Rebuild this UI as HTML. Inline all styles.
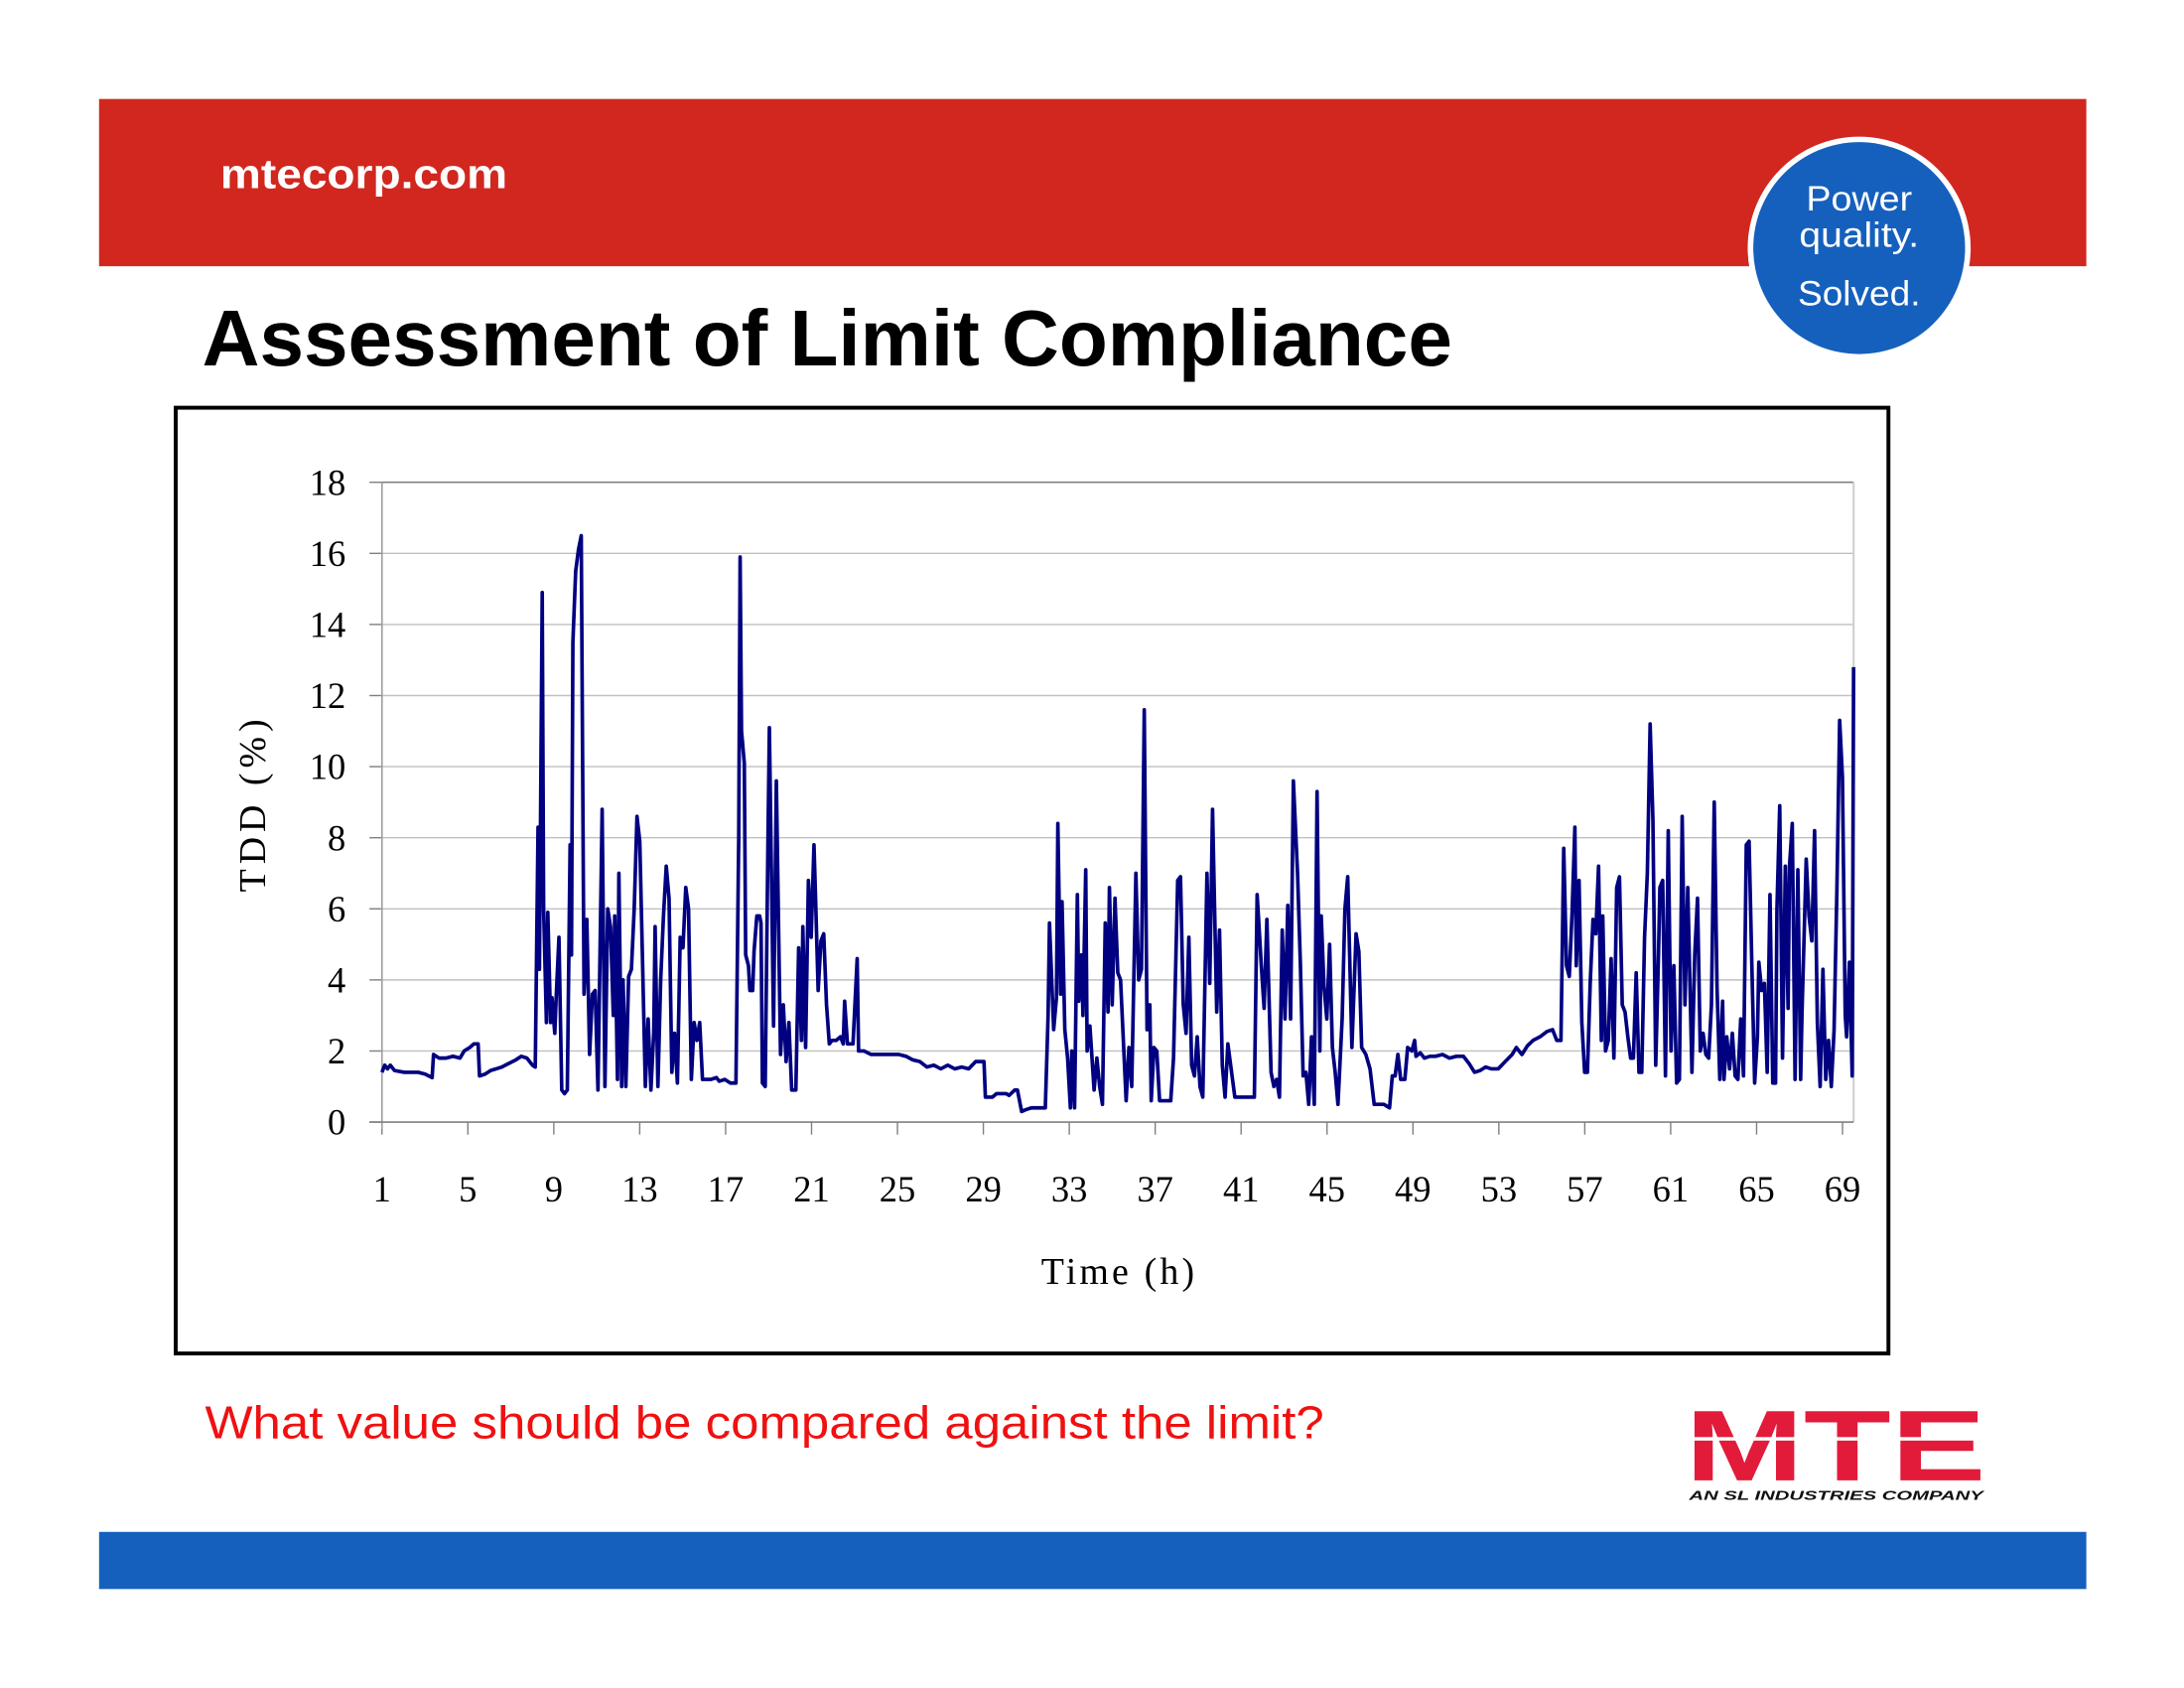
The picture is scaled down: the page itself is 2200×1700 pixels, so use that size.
<!DOCTYPE html>
<html><head><meta charset="utf-8"><style>html,body{margin:0;padding:0;background:#fff}svg{display:block}</style></head>
<body>
<svg id="s" width="2200" height="1700" viewBox="0 0 1567 1211" xmlns="http://www.w3.org/2000/svg">
<rect x="0" y="0" width="1567" height="1211" fill="#fff"/>
<rect x="71" y="71" width="1426" height="120" fill="#d1271f"/>
<text x="158" y="135" font-family="Liberation Sans, sans-serif" font-weight="bold" font-size="30" fill="#fff" textLength="206" lengthAdjust="spacingAndGlyphs">mtecorp.com</text>
<circle cx="1334" cy="178" r="80" fill="#fff"/>
<circle cx="1334" cy="178" r="76" fill="#1560bd"/>
<text x="1334" y="151" text-anchor="middle" font-family="Liberation Sans, sans-serif" font-size="25" fill="#fff" textLength="76" lengthAdjust="spacingAndGlyphs">Power</text>
<text x="1334" y="177" text-anchor="middle" font-family="Liberation Sans, sans-serif" font-size="25" fill="#fff" textLength="86" lengthAdjust="spacingAndGlyphs">quality.</text>
<text x="1334" y="219" text-anchor="middle" font-family="Liberation Sans, sans-serif" font-size="25" fill="#fff" textLength="88" lengthAdjust="spacingAndGlyphs">Solved.</text>
<text x="145" y="262" font-family="Liberation Sans, sans-serif" font-weight="bold" font-size="57" fill="#000" textLength="897" lengthAdjust="spacingAndGlyphs">Assessment of Limit Compliance</text>
<rect x="126" y="292.5" width="1229" height="678.5" fill="none" stroke="#000" stroke-width="2.8"/>
<g id="grid" stroke="#c0c0c0" stroke-width="1"></g>
<line x1="274" y1="346" x2="1330" y2="346" stroke="#808080" stroke-width="1.2"/>
<line x1="1330" y1="346" x2="1330" y2="805" stroke="#d0d0d0" stroke-width="1.5"/>
<line x1="274" y1="346" x2="274" y2="810" stroke="#a0a0a0" stroke-width="1.2"/>
<line x1="265" y1="805" x2="1330" y2="805" stroke="#808080" stroke-width="1.2"/>
<g id="labels" font-family="Liberation Serif, serif" font-size="26" fill="#000"></g>
<text x="802" y="921" text-anchor="middle" font-family="Liberation Serif, serif" font-size="27" textLength="110" lengthAdjust="spacing">Time (h)</text>
<text transform="translate(190,578) rotate(-90)" text-anchor="middle" font-family="Liberation Serif, serif" font-size="27" textLength="124" lengthAdjust="spacing">TDD (%)</text>
<path id="series" fill="none" stroke="#000080" stroke-width="2.6" stroke-linejoin="round"/>
<text x="147" y="1032" font-family="Liberation Sans, sans-serif" font-size="33" fill="#f01010" textLength="803" lengthAdjust="spacingAndGlyphs">What value should be compared against the limit?</text>
<text x="1209" y="1062" font-family="Liberation Sans, sans-serif" font-weight="bold" font-size="72" fill="#e31b3a" textLength="216" lengthAdjust="spacingAndGlyphs">MTE</text>
<rect x="1205" y="1031" width="225" height="2.5" fill="#fff"/>
<text x="1212" y="1076" font-family="Liberation Sans, sans-serif" font-weight="bold" font-style="italic" font-size="9" fill="#111" textLength="211" lengthAdjust="spacingAndGlyphs">AN SL INDUSTRIES COMPANY</text>
<rect x="71" y="1099" width="1426" height="41" fill="#1560bd"/>
</svg>
<script>
var NS="http://www.w3.org/2000/svg";
function el(t,a,p){var e=document.createElementNS(NS,t);for(var k in a)e.setAttribute(k,a[k]);p.appendChild(e);return e;}
var g=document.getElementById("grid"),L=document.getElementById("labels");
var Y=function(v){return 805-v*25.5;};
for(var v=2;v<18;v+=2){el("line",{x1:274,y1:Y(v),x2:1330,y2:Y(v)},g);}
for(var v=0;v<=18;v+=2){el("line",{x1:265,y1:Y(v),x2:274,y2:Y(v),stroke:"#808080"},g);var t=el("text",{x:248,y:Y(v)+9,"text-anchor":"end"},L);t.textContent=v;}
for(var k=0;k<18;k++){var x=274+k*61.65;el("line",{x1:x,y1:805,x2:x,y2:814,stroke:"#808080"},g);var t=el("text",{x:x,y:862,"text-anchor":"middle"},L);t.textContent=1+4*k;}
var d=[274,1.4,276,1.6,278,1.5,280,1.6,283,1.45,290,1.4,300,1.4,305,1.35,310,1.25,311,1.9,315,1.8,320,1.8,325,1.85,330,1.8,333,2.0,337,2.1,340,2.2,343,2.2,344,1.3,348,1.35,352,1.45,356,1.5,360,1.55,365,1.65,370,1.75,374,1.85,378,1.8,382,1.6,384,1.55,386,8.3,387,4.3,389,14.9,390,6,392,2.8,393,5.9,395,2.8,396,3.5,398,2.5,399,3.5,401,5.2,403,0.9,405,0.8,407,0.9,409,7.8,410,4.7,411,13.5,413,15.5,415,16.1,417,16.5,419,3.6,421,5.7,423,1.9,425,3.6,427,3.7,429,0.9,432,8.8,434,1.0,436,6.0,438,5.5,440,3.0,441,5.8,443,1.2,444,7.0,446,1.0,447,4.0,449,1.0,451,4.1,453,4.3,455,6.0,457,8.6,459,7.9,461,4.5,463,1.0,465,2.9,467,0.9,469,2.5,470,5.5,472,1.0,474,4.0,476,5.8,478,7.2,480,6.3,482,1.4,484,2.5,486,1.1,488,5.2,490,4.9,492,6.6,494,6.0,496,1.2,498,2.8,500,2.3,502,2.8,504,1.2,510,1.2,514,1.25,516,1.15,520,1.2,524,1.1,526,1.1,528,1.1,530,8,531,15.9,532,11,534,10.1,535,4.7,537,4.4,538,3.7,540,3.7,541,4.8,543,5.8,545,5.8,546,5.6,547,1.1,549,1.0,551,8.0,552,11.1,555,2.7,557,9.6,560,1.9,562,3.3,564,1.7,566,2.8,568,0.9,571,0.9,573,4.9,575,2.3,576,5.5,578,2.1,580,6.8,582,5.2,584,7.8,585,6.5,587,3.7,589,5.1,591,5.3,593,3.3,595,2.2,597,2.3,600,2.3,603,2.4,605,2.2,606,3.4,608,2.2,612,2.2,615,4.6,616,2.0,620,2.0,625,1.9,630,1.9,635,1.9,640,1.9,645,1.9,650,1.85,655,1.75,660,1.7,665,1.55,670,1.6,675,1.5,680,1.6,685,1.5,690,1.55,695,1.5,700,1.7,706,1.7,707,0.7,712,0.7,715,0.8,722,0.8,724,0.75,728,0.9,730,0.9,733,0.3,736,0.35,740,0.4,750,0.4,752,3.0,753,5.6,756,2.6,758,3.5,759,8.4,761,3.6,762,6.2,764,2.6,766,1.8,768,0.4,769,2.0,771,0.4,773,6.4,774,3.4,776,4.7,777,3.0,779,7.1,780,2.0,782,2.7,785,0.9,787,1.8,789,1.0,791,0.5,793,5.6,795,3.1,796,6.6,798,3.3,800,6.3,802,4.2,804,4.0,806,2.3,808,0.6,810,2.1,812,1.0,815,7.0,817,4.0,819,4.3,821,11.6,823,2.6,825,3.3,826,0.6,828,2.1,830,2.0,832,0.6,840,0.6,842,1.8,845,6.8,847,6.9,849,3.3,851,2.5,853,5.2,855,1.6,857,1.3,859,2.4,861,1.0,863,0.7,866,7.0,868,3.9,870,8.8,873,3.1,875,5.4,877,1.6,879,0.7,881,2.2,883,1.6,886,0.7,893,0.7,900,0.7,902,6.4,905,4.4,907,3.2,909,5.7,912,1.4,914,1.0,916,1.2,918,0.7,920,5.4,922,2.9,924,6.1,926,2.9,928,9.6,931,7.0,933,4.5,935,1.3,937,1.4,939,0.5,941,2.4,943,0.5,945,9.3,947,2.0,948,5.8,950,3.8,952,2.9,954,5.0,956,2.1,958,1.4,960,0.5,963,2.9,965,6.0,967,6.9,970,2.1,973,5.3,975,4.8,977,2.1,980,1.9,983,1.5,986,0.5,993,0.5,997,0.4,999,1.3,1001,1.3,1003,1.9,1005,1.2,1008,1.2,1010,2.1,1013,2.0,1015,2.3,1016,1.85,1019,1.95,1022,1.8,1026,1.85,1030,1.85,1035,1.9,1040,1.8,1045,1.85,1050,1.85,1054,1.65,1058,1.4,1062,1.45,1066,1.55,1070,1.5,1075,1.5,1080,1.7,1085,1.9,1088,2.1,1092,1.9,1096,2.15,1100,2.3,1105,2.4,1110,2.55,1114,2.6,1117,2.3,1120,2.3,1122,7.7,1124,4.4,1126,4.1,1128,5.9,1130,8.3,1131,4.4,1133,6.8,1135,2.8,1137,1.4,1139,1.4,1141,3.9,1143,5.7,1145,5.3,1147,7.2,1149,2.3,1150,5.8,1152,2.0,1154,2.3,1156,4.6,1158,1.8,1160,6.6,1162,6.9,1164,3.3,1166,3.1,1168,2.4,1170,1.8,1172,1.8,1174,4.2,1176,1.4,1178,1.4,1180,5.2,1182,7.0,1184,11.2,1186,8.5,1188,1.6,1190,4.7,1191,6.6,1193,6.8,1195,1.3,1197,8.2,1199,2.0,1201,4.4,1203,1.1,1205,1.2,1207,8.6,1209,3.3,1211,6.6,1214,1.4,1216,4.7,1218,6.3,1220,2.0,1222,2.5,1224,1.9,1226,1.8,1228,3.3,1230,9.0,1232,3.8,1234,1.2,1236,3.4,1237,1.2,1239,2.4,1241,1.5,1243,2.5,1245,1.3,1247,1.2,1249,2.9,1251,1.3,1253,7.8,1255,7.9,1257,4.4,1259,1.1,1261,2.4,1262,4.5,1264,3.7,1266,3.9,1268,1.4,1270,6.4,1272,1.1,1274,1.1,1275,6.0,1277,8.9,1279,1.8,1281,7.2,1283,3.2,1284,7.2,1286,8.4,1288,1.2,1290,7.1,1292,1.2,1293,3.1,1296,7.4,1298,5.8,1300,5.1,1302,8.2,1304,2.8,1306,1.0,1308,4.3,1310,1.2,1312,2.3,1314,1.0,1316,2.6,1318,6.5,1320,11.3,1322,9.7,1324,3.0,1325,2.4,1327,4.5,1329,1.3,1330,12.8];
var p="";for(var i=0;i<d.length;i+=2){p+=(i?"L":"M")+d[i]+","+Y(d[i+1]).toFixed(1);}
document.getElementById("series").setAttribute("d",p);
</script>
</body></html>
